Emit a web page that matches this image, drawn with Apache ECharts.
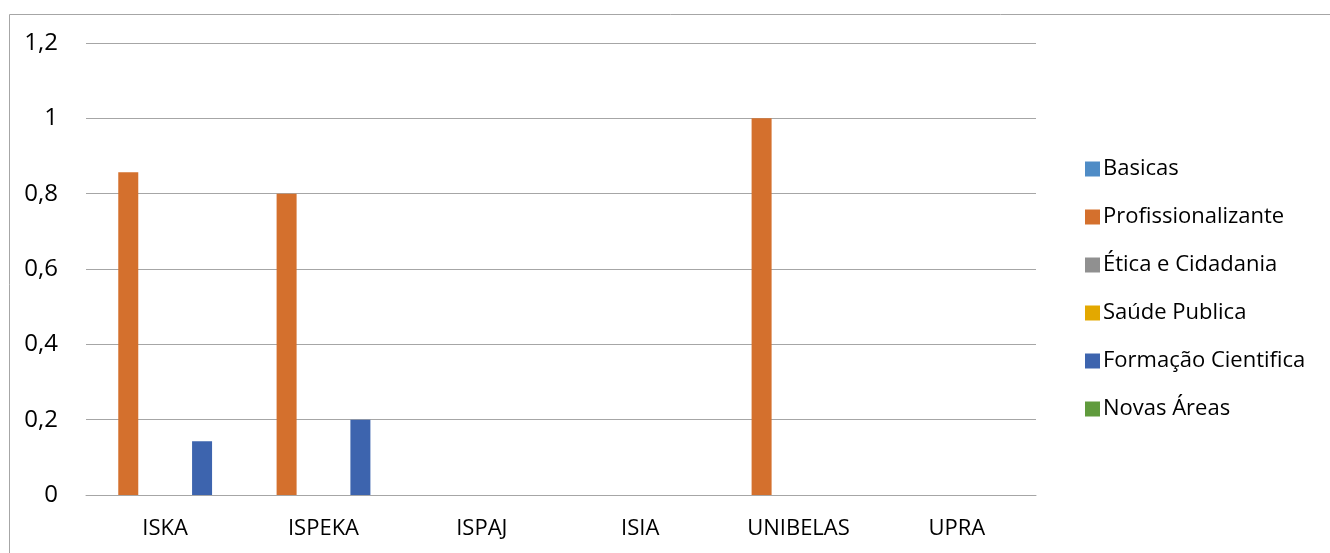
<!DOCTYPE html>
<html><head><meta charset="utf-8">
<script src="https://cdn.jsdelivr.net/npm/echarts@6/dist/echarts.min.js"></script>
<style>html,body{margin:0;padding:0;background:#fff}#c{width:1330px;height:553px}</style>
</head><body><div id="c"></div>
<script>
const categories = ['ISKA','ISPEKA','ISPAJ','ISIA','UNIBELAS','UPRA'];
const seriesNames = ['Basicas','Profissionalizante','Ética e Cidadania','Saúde Publica','Formação Cientifica','Novas Áreas'];
const basicas = [0,0,0,0,0,0];
const profissionalizante = [0.857,0.8,0,0,1,0];
const etica = [0,0,0,0,0,0];
const saude = [0,0,0,0,0,0];
const formacao = [0.143,0.2,0,0,0,0];
const novas = [0,0,0,0,0,0];
const colors = ['#4F8CC6','#D4702D','#909090','#E3A800','#3D64AE','#609B3D'];
const yTicks = [0,0.2,0.4,0.6,0.8,1,1.2];

const dataSets = [basicas, profissionalizante, etica, saude, formacao, novas];
const font = 'Open Sans';
const chart = echarts.init(document.getElementById('c'), null, {renderer:'canvas'});
chart.setOption({
  animation:false,
  color: colors,
  graphic:[{type:'rect', shape:{x:9.5,y:14.5,width:1340,height:560}, style:{fill:'none',stroke:'#A6A6A6',lineWidth:1}, silent:true}],
  grid:{left:86,right:294,top:43,bottom:58},
  legend:{
    orient:'vertical', left:1080, top:153, itemGap:26, itemWidth:15, itemHeight:15,
    icon:'rect',
    textStyle:{fontFamily:font, fontSize:22, lineHeight:22, color:'#000', padding:[0,0,0,-2]},
    data: seriesNames
  },
  xAxis:{
    type:'category', data:categories,
    axisLine:{lineStyle:{color:'#A6A6A6',width:1}},
    axisTick:{show:false},
    axisLabel:{fontFamily:font, fontSize:22, color:'#000', margin:23}
  },
  yAxis:{
    type:'value', min:0, max:1.2, interval:0.2,
    axisLine:{show:false}, axisTick:{show:false},
    splitLine:{lineStyle:{color:'#A6A6A6',width:1}},
    axisLabel:{fontFamily:font, fontSize:24, color:'#000', margin:28,
      formatter:v=>{const t=yTicks.find(x=>Math.abs(x-v)<1e-9); return String(Math.round((t!==undefined?t:v)*10)/10).replace('.',',');}}
  },
  series: seriesNames.map((n,i)=>({
    name:n, type:'bar', data:dataSets[i], barWidth:20, barGap:'23%',
    itemStyle:{color:colors[i]}
  }))
});
</script></body></html>
